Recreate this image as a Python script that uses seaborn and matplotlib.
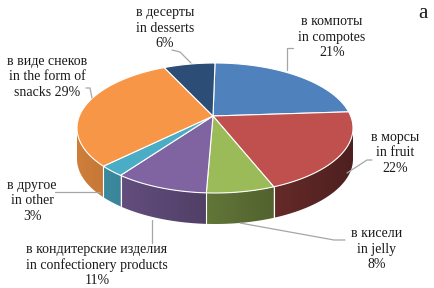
import numpy as np
import seaborn as sns
import matplotlib.pyplot as plt
import matplotlib.colors as mcolors
from matplotlib.patches import Polygon

sns.set_theme(style="white")
plt.rcParams['font.family'] = ['Liberation Serif', 'DejaVu Serif']

# data, clockwise from 12 o'clock
labels = [
    "в компоты\nin compotes\n21%",
    "в морсы\nin fruit\n22%",
    "в кисели\nin jelly\n8%",
    "в кондитерские изделия\nin confectionery products\n11%",
    "в другое\nin other\n3%",
    "в виде снеков\nin the form of\nsnacks 29%",
    "в десерты\nin desserts\n6%",
]
shares = [21, 22, 8, 11, 3, 29, 6]
colors = ["#4F81BD", "#C0504D", "#9BBB59", "#8064A2", "#4BACC6", "#F79646", "#2C4D75"]

# label layout (pixel coords) and leader lines
label_pos = [(332, 37), (395, 153), (377, 249), (97, 265), (32, 201), (47, 77), (165, 28)]
leaders = [
    [(293, 48), (287, 48), (287, 70)],
    [(372, 160), (367, 160), (347, 173)],
    [(240, 223), (334, 240), (345, 240)],
    [(152, 220), (152, 243)],
    [(55, 192), (100, 192)],
    [(86, 88), (90, 88), (92, 98)],
    [(172, 50), (180, 52), (191, 63)],
]

W, H = 434, 288
cx, cy, rx, ry, depth = 215, 128, 138, 65, 31
vx, vy = 213, 116

fig = plt.figure(figsize=(W / 100, H / 100), dpi=100)
ax = fig.add_axes([0, 0, 1, 1])
ax.set_xlim(0, W)
ax.set_ylim(H, 0)
ax.axis("off")


def edge(t):
    t = np.radians(t)
    return cx + rx * np.cos(t), cy - ry * np.sin(t)


bounds = 90 - 360 * np.concatenate([[0], np.cumsum(shares)]) / sum(shares)

# side walls (front half only), lighter on the left, darker on the right
xg = np.linspace(cx - rx, cx + rx, 200)
shade = 0.62 - 0.22 * (xg - cx) / rx
for i, col in enumerate(colors):
    a1, a2 = bounds[i], bounds[i + 1]
    rgb = np.array(mcolors.to_rgb(col))
    img = np.clip(shade[None, :, None] * rgb[None, None, :], 0, 1)
    for off in (0, -360):
        lo, hi = max(a2 + off, -180), min(a1 + off, 0)
        if hi <= lo:
            continue
        t = np.linspace(lo, hi, 100)
        xs, ys = edge(t)
        px = np.concatenate([xs, xs[::-1]])
        py = np.concatenate([ys, ys[::-1] + depth])
        poly = Polygon(np.column_stack([px, py]), closed=True, fc="none", ec="none")
        ax.add_patch(poly)
        im = ax.imshow(img, extent=(cx - rx, cx + rx, cy + ry + depth + 2, cy - 2),
                       aspect="auto", interpolation="bilinear")
        im.set_clip_path(poly)
# white seams on walls
for b in bounds:
    tt = ((b + 180) % 360) - 180
    if -180 < tt < 0:
        x, y = edge(tt)
        ax.plot([x, x], [y, y + depth], color="white", lw=0.8)

# top face
for i, col in enumerate(colors):
    t = np.linspace(bounds[i], bounds[i + 1], 120)
    xs, ys = edge(t)
    px = np.concatenate([[vx], xs, [vx]])
    py = np.concatenate([[vy], ys, [vy]])
    ax.fill(px, py, facecolor=col, edgecolor="white", lw=0.8)

for lab, (x, y), pts in zip(labels, label_pos, leaders):
    ax.text(x, y, lab, ha="center", va="center", fontsize=10, color="#1a1a1a",
            linespacing=1.25)
    p = np.array(pts)
    ax.plot(p[:, 0], p[:, 1], color="#a6a6a6", lw=0.9)

ax.text(423, 13, "a", ha="center", va="center", fontsize=15, color="#1a1a1a")

ax.set_xlim(0, W)
ax.set_ylim(H, 0)
fig.savefig("out.png", dpi=100)
